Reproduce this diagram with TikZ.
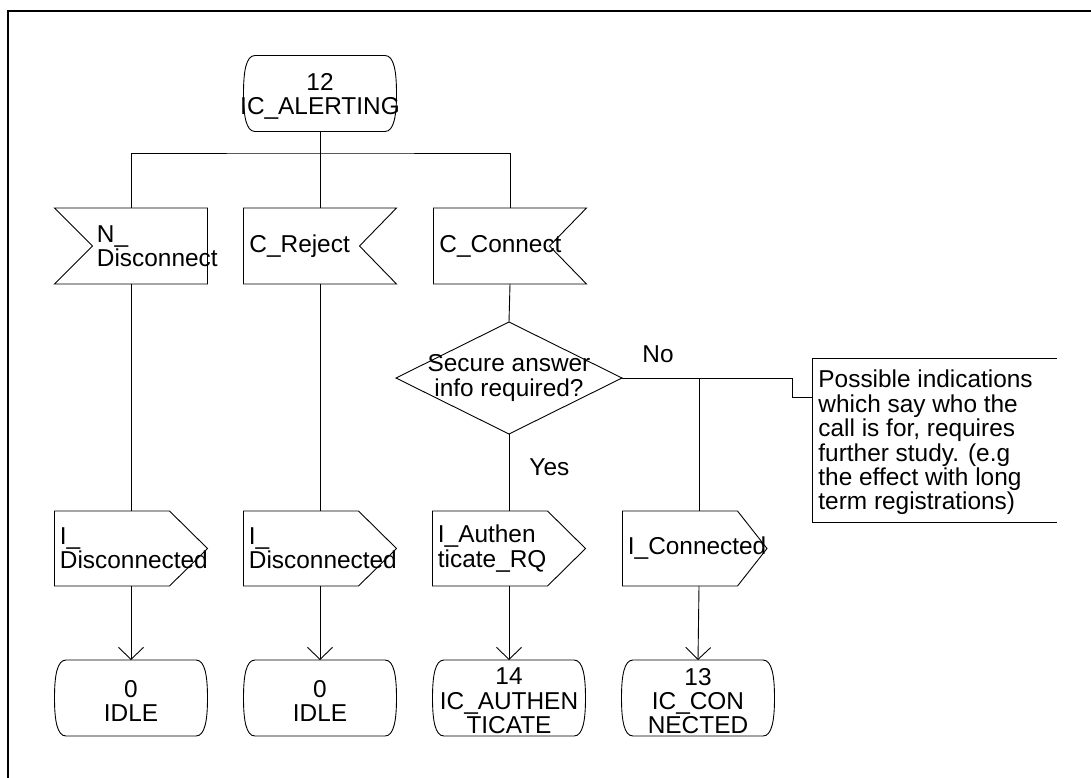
\documentclass[tikz,border=0pt]{standalone}
\usepackage{fontspec}
\setmainfont{Liberation Sans}
\usetikzlibrary{arrows.meta,calc}

% SDL symbols, each drawn around its centre; named edge points are
% stored as <name>-n / <name>-s for the connectors.
\newcommand\sdlstate[3]{%
  \node[txt,align=center,yshift=-3pt] (#1) at (#2) {#3};
  \begin{scope}[shift={(#2)}]
    \draw (-65,-38) -- (65,-38) .. controls (74,-38) and (76.5,-22) .. (76.5,0)
      .. controls (76.5,22) and (74,38) .. (65,38) -- (-65,38)
      .. controls (-74,38) and (-76.5,22) .. (-76.5,0)
      .. controls (-76.5,-22) and (-74,-38) .. cycle;
    \coordinate (#1-n) at (0,-38);
    \coordinate (#1-s) at (0,38);
  \end{scope}}
% input, notch on the left
\newcommand\sdlinleft[3]{%
  \begin{scope}[shift={(#2)}]
    \draw (-76.5,-38) -- (76.5,-38) -- (76.5,38) -- (-76.5,38) -- (-38.5,0) -- cycle;
    \node[txt,align=left,anchor=west] (#1) at (-34.5,0) {#3};
    \coordinate (#1-n) at (0,-38);
    \coordinate (#1-s) at (0,38);
  \end{scope}}
% input, notch on the right
\newcommand\sdlinright[3]{%
  \begin{scope}[shift={(#2)}]
    \draw (-76.5,-38) -- (76.5,-38) -- (39.5,0) -- (76.5,38) -- (-76.5,38) -- cycle;
    \node[txt,align=left,anchor=west] (#1) at (-71,0) {#3};
    \coordinate (#1-n) at (0,-38);
    \coordinate (#1-s) at (0,38);
  \end{scope}}
% output, point on the right (#4 = x of the point)
\newcommand\sdlout[4]{%
  \begin{scope}[shift={(#2)}]
    \draw (-76.5,-37.5) -- (38.5,-37.5) -- (#4,0) -- (38.5,37.5) -- (-76.5,37.5) -- cycle;
    \node[txt,align=left,anchor=west] (#1) at (-71.5,0) {#3};
    \coordinate (#1-n) at (0,-37.5);
    \coordinate (#1-s) at (0,37.5);
  \end{scope}}

\begin{document}
\begin{tikzpicture}[x=1pt,y=-1pt,line width=0.9pt,
  txt/.style={font=\fontsize{24.4}{24.4}\selectfont,inner sep=0pt},
  flowarrow/.style={-{Straight Barb[length=12pt,width=25pt,line width=0.9pt]}}]
\useasboundingbox (0,0) rectangle (1091,778);

% page frame
\draw[line width=2pt] (8,11) rectangle (1100,790);

% start state and inputs
\sdlstate{s12}{320,93.5}{12\\IC\_ALERTING}
\sdlinleft{in1}{131,246}{N\_\\Disconnect}
\sdlinright{in2}{320,246}{C\_Reject}
\sdlinright{in3}{510,246}{C\_Connect}

% decision
\node[txt,align=center] (dec) at (509,378) {Secure answer\\info required?};
\draw (396,378) -- (509,322) -- (622,378) -- (509,434) -- cycle;
\coordinate (dec-n) at (509,322);
\coordinate (dec-s) at (509,434);
\coordinate (dec-e) at (622,378);

% outputs
\sdlout{out1}{131,548.5}{I\_\\Disconnected}{76.5}
\sdlout{out2}{320,548.5}{I\_\\Disconnected}{76.5}
\sdlout{out3}{509,548.5}{I\_Authen\\ticate\_RQ}{76.5}
\sdlout{out4}{699,548.5}{I\_Connected}{68}

% next states
\sdlstate{st1}{131,698}{0\\IDLE}
\sdlstate{st2}{320,698}{0\\IDLE}
\sdlstate{st3}{509,698}{14\\IC\_AUTHEN\\TICATE}
\sdlstate{st4}{698,698}{13\\IC\_CON\\NECTED}

% comment bracket
\node[txt,align=left,anchor=west] (note) at (818,442.5)
  {Possible indications\\which say who the\\call is for, requires\\further study. (e.g\\the effect with long\\term registrations)};
\draw (1057,358) -- (812,358) -- (812,522) -- (1057,522);
\coordinate (note-w) at (812,397);

% labels
\node[txt,anchor=base west] (no) at (642,362) {No};
\node[txt,anchor=base west] (yes) at (529,475) {Yes};

% connectors
\coordinate (bus) at (320,153);
\coordinate (join) at (699,378);
\coordinate (bend) at (792,378);
\draw (s12-s) -- (bus);
\draw (in1-n) |- (bus) -| (in3-n);
\draw (bus) -- (in2-n);
\draw (in1-s) -- (out1-n);
\draw (in2-s) -- (out2-n);
\draw (in3-s) -- (dec-n);
\draw (dec-s) -- (out3-n);
\draw (dec-e) -- (bend) |- (note-w);
\draw (join) -- (out4-n);
\draw[flowarrow] (out1-s) -- (st1-n);
\draw[flowarrow] (out2-s) -- (st2-n);
\draw[flowarrow] (out3-s) -- (st3-n);
\draw[flowarrow] (out4-s) -- (st4-n);
\end{tikzpicture}
\end{document}
